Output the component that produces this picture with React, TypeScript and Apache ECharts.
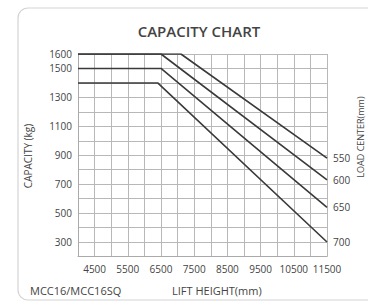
import React, { useEffect, useRef } from "react";
import * as echarts from "echarts";

const loadCenters = ["550", "600", "650", "700"];
const liftHeights550 = [4000, 7100, 11500];
const capacity550 = [1600, 1600, 880];
const liftHeights600 = [4000, 6500, 11500];
const capacity600 = [1600, 1600, 730];
const liftHeights650 = [4000, 6500, 11500];
const capacity650 = [1500, 1500, 540];
const liftHeights700 = [4000, 6400, 11500];
const capacity700 = [1400, 1400, 300];
const xTickLabels = [4500, 5500, 6500, 7500, 8500, 9500, 10500, 11500];
const yTickLabels = [300, 500, 700, 900, 1100, 1300, 1500, 1600];

const FONT = "'Open Sans', 'Noto Sans', sans-serif";

export default function App() {
  const ref = useRef<HTMLDivElement>(null);
  useEffect(() => {
    if (!ref.current) return;
    const chart = echarts.init(ref.current, null, { renderer: "svg" });
    const xs = [liftHeights550, liftHeights600, liftHeights650, liftHeights700];
    const ys = [capacity550, capacity600, capacity650, capacity700];
    const series = loadCenters.map((name, i) => ({
      name,
      type: "line",
      data: xs[i].map((x, j) => [x, ys[i][j]]),
      symbol: "none",
      lineStyle: { color: "#3a3a3a", width: 1.6 },
      endLabel: {
        show: true,
        formatter: "{a}",
        color: "#444",
        fontSize: 10,
        fontFamily: FONT,
        distance: 6,
      },
      z: 5,
    }));
    chart.setOption({
      animation: false,
      backgroundColor: "#fff",
      grid: { left: 78, right: 41, top: 54, bottom: 47.5, containLabel: false },
      xAxis: {
        type: "value",
        min: 4000,
        max: 11500,
        interval: 500,
        axisLine: { show: true, lineStyle: { color: "#aaa", width: 1 } },
        axisTick: { show: false },
        splitLine: { show: true, lineStyle: { color: "#b8b8b8", width: 1 } },
        axisLabel: {
          color: "#444",
          fontSize: 10,
          fontFamily: FONT,
          margin: 7,
          showMinLabel: true,
          showMaxLabel: true,
          formatter: (v: number) => (xTickLabels.includes(v) ? String(v) : ""),
        },
      },
      yAxis: {
        type: "value",
        min: 200,
        max: 1600,
        interval: 100,
        axisLine: { show: true, lineStyle: { color: "#aaa", width: 1 } },
        axisTick: { show: false },
        splitLine: { show: true, lineStyle: { color: "#b8b8b8", width: 1 } },
        axisLabel: {
          color: "#444",
          fontSize: 10,
          fontFamily: FONT,
          margin: 6,
          showMinLabel: true,
          showMaxLabel: true,
          formatter: (v: number) => (yTickLabels.includes(v) ? String(v) : ""),
        },
      },
      series,
      graphic: [
        {
          type: "rect",
          shape: { x: 18, y: 8, width: 400, height: 292, r: 10 },
          style: { fill: "none", stroke: "#d4d4d4", lineWidth: 1.2 },
          z: 0,
        },
        {
          type: "text",
          x: 199,
          y: 31,
          style: {
            text: "CAPACITY CHART",
            fill: "#444",
            fontSize: 15,
            fontWeight: 600,
            fontFamily: FONT,
            align: "center",
            verticalAlign: "middle",
          },
        },
        {
          type: "text",
          x: 28,
          y: 156,
          rotation: Math.PI / 2,
          style: {
            text: "CAPACITY (kg)",
            fill: "#444",
            fontSize: 10,
            fontFamily: FONT,
            align: "center",
            verticalAlign: "middle",
          },
        },
        {
          type: "text",
          x: 360,
          y: 137,
          rotation: Math.PI / 2,
          style: {
            text: "LOAD CENTER(mm)",
            fill: "#444",
            fontSize: 9,
            fontFamily: FONT,
            align: "center",
            verticalAlign: "middle",
          },
        },
        {
          type: "text",
          x: 30,
          y: 290,
          style: {
            text: "MCC16/MCC16SQ",
            fill: "#444",
            fontSize: 11,
            fontFamily: FONT,
            align: "left",
            verticalAlign: "middle",
          },
        },
        {
          type: "text",
          x: 172,
          y: 290,
          style: {
            text: "LIFT HEIGHT(mm)",
            fill: "#444",
            fontSize: 11,
            fontFamily: FONT,
            align: "left",
            verticalAlign: "middle",
          },
        },
      ],
    });
    return () => chart.dispose();
  }, []);
  return <div ref={ref} style={{ width: 368, height: 304, position: "fixed", left: 0, top: 0 }} />;
}
